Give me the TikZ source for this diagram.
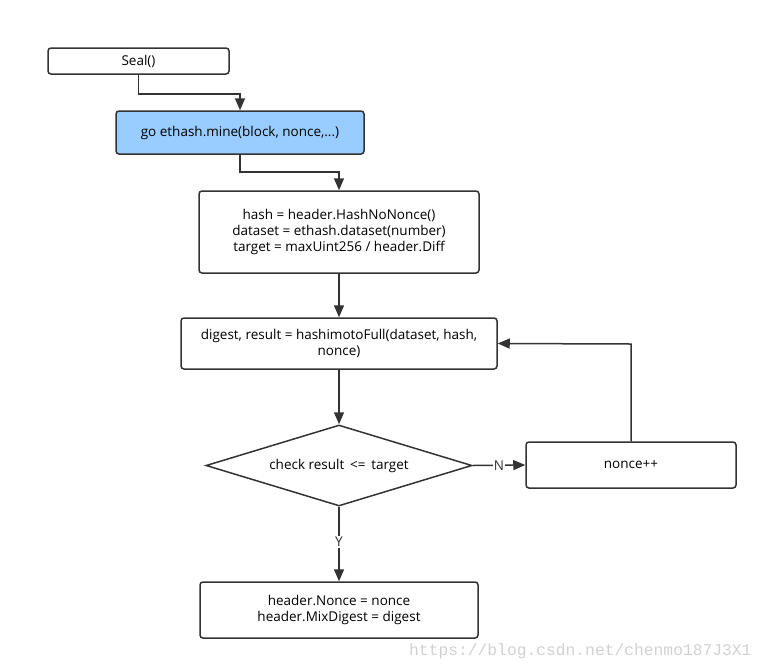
\documentclass[tikz,border=0pt]{standalone}
\usepackage{fontspec}
\setmainfont{Open Sans}
\newfontfamily\wmfont{Liberation Mono}
\usetikzlibrary{shapes.geometric,arrows.meta,positioning}
\definecolor{edge}{HTML}{333333}
\definecolor{blue1}{HTML}{99CCFF}
\tikzset{
  box/.style={draw=edge,line width=1.5pt,rounded corners=3pt,fill=white,inner sep=0pt,align=center,font=\fontsize{13.5}{16}\selectfont},
  dec/.style={draw=edge,line width=1.5pt,diamond,aspect=3.3,inner sep=0pt,fill=white,font=\fontsize{13.5}{16}\selectfont},
  conn/.style={draw=edge,line width=1.5pt,-{Triangle[length=12pt,width=10pt]}},
  lab/.style={fill=white,inner sep=1pt,font=\fontsize{13.5}{16}\selectfont,text=edge}
}
\begin{document}
\begin{tikzpicture}[x=1pt,y=-1pt]
\useasboundingbox (0,0) rectangle (768,670);
\node[box,minimum width=181pt,minimum height=26pt] (seal) at (138.5,61) {Seal()};
\node[box,fill=blue1,minimum width=248pt,minimum height=43pt] (mine) at (240,132.5) {go ethash.mine(block, nonce,...)};
\node[box,minimum width=280pt,minimum height=82pt] (hash) at (339,232) {hash = header.HashNoNonce()\\dataset = ethash.dataset(number)\\target = maxUint256 / header.Diff};
\node[box,minimum width=316pt,minimum height=51pt] (dig) at (339,343.5) {digest, result = hashimotoFull(dataset, hash,\\nonce)};
\node[dec,minimum width=266pt,minimum height=81pt] (chk) at (339,465.5) {check result \,<=\, target};
\node[box,minimum width=210pt,minimum height=46pt] (inc) at (631,465) {nonce++};
\node[box,minimum width=278pt,minimum height=56pt] (fin) at (339,610) {header.Nonce = nonce\\header.MixDigest = digest};
\coordinate (c1) at (138.5,94);
\coordinate (c2) at (240,94);
\coordinate (c3) at (240,172);
\coordinate (c4) at (339,172);
\coordinate (c5) at (631,344);
\draw[conn] (seal.south) -- (c1) -- (c2) -- (mine.north);
\draw[conn] (mine.south) -- (c3) -- (c4) -- (hash.north);
\draw[conn] (hash.south) -- (dig.north);
\draw[conn] (dig.south) -- (chk.north);
\draw[conn] (chk.east) -- node[lab] (nl) {N} (inc.west);
\draw[conn] (inc.north) -- (c5) -- (dig.east);
\draw[conn] (chk.south) -- node[lab,pos=0.47] (yl) {Y} (fin.north);
\node[anchor=west,text=black!18,font=\wmfont\fontsize{16.3}{20}\selectfont,inner sep=0pt] (wm) at (409,651) {https://blog.csdn.net/chenmo187J3X1};
\end{tikzpicture}
\end{document}
